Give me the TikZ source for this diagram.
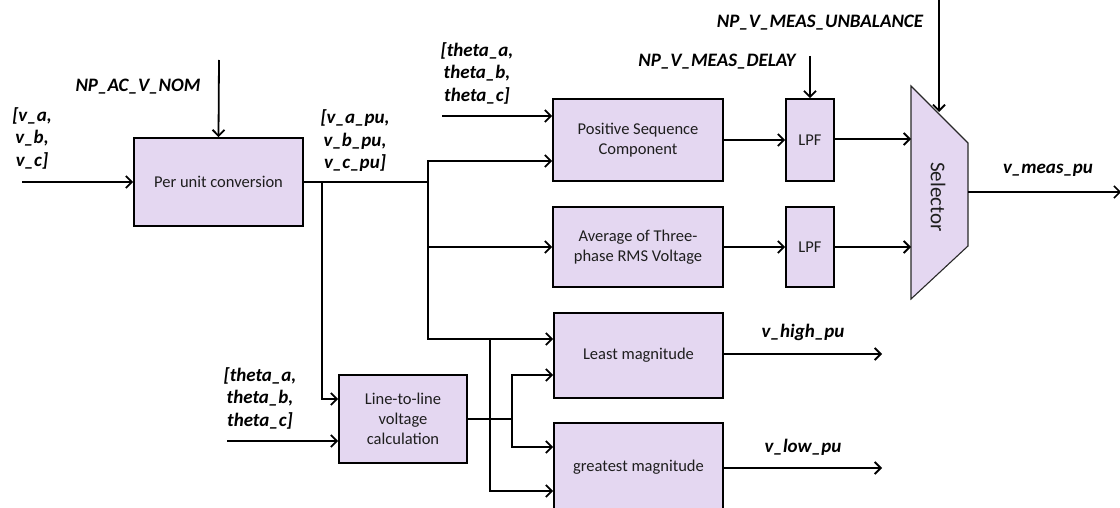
\documentclass[tikz,border=0pt]{standalone}
\usepackage{fontspec}
\setmainfont{Carlito}
\usetikzlibrary{arrows.meta}
\definecolor{boxfill}{RGB}{228,215,241}
\definecolor{boxtext}{RGB}{30,30,30}
\definecolor{selline}{RGB}{40,40,40}
\begin{document}
\begin{tikzpicture}[x=1pt,y=-1pt,
  blk/.style={draw=black, line width=1.8pt, fill=boxfill, text=boxtext,
    font=\fontsize{16.5}{20}\selectfont, align=center, inner sep=0pt},
  wire/.style={line width=1.8pt},
  arr/.style={wire, -{Straight Barb[length=6pt,width=12pt]}},
  lbl/.style={font=\fontsize{19}{#1}\selectfont\bfseries\itshape, align=center, inner sep=0pt},
  lbl/.default=22.5
]
\useasboundingbox (0,0) rectangle (1120,508);
\clip (0,0) rectangle (1120,508);

% processing blocks
\node[blk, minimum width=169pt, minimum height=88pt] (pu)  at (218.5,182) {Per unit conversion};
\node[blk, minimum width=170pt, minimum height=82pt] (psc) at (638,140) {Positive Sequence\\Component};
\node[blk, minimum width=170pt, minimum height=80pt] (avg) at (638,247) {Average of Three-\\phase RMS Voltage};
\node[blk, minimum width=48pt, minimum height=82pt] (lpfa) at (810,140) {LPF};
\node[blk, minimum width=48pt, minimum height=80pt] (lpfb) at (810,247) {LPF};
\node[blk, minimum width=169pt, minimum height=85pt] (least) at (638.5,355.5) {Least magnitude};
\node[blk, minimum width=169pt, minimum height=89pt] (great) at (638.5,467.5) {greatest magnitude};
\node[blk, minimum width=128pt, minimum height=88pt] (ltl) at (403,419) {Line-to-line\\voltage\\calculation};

% selector (trapezoid)
\coordinate (s1) at (911,86);
\coordinate (s2) at (968,143);
\coordinate (s3) at (968,246);
\coordinate (s4) at (911,299);
\draw[fill=boxfill, draw=selline, line width=1.1pt] (s1) -- (s2) -- (s3) -- (s4) -- cycle;
\node[rotate=-90, text=boxtext, font=\fontsize{21}{24}\selectfont] (sel) at (938,197) {Selector};

% free ends and junctions
\coordinate (vin)   at (22,182);
\coordinate (nomin) at (219,60);
\coordinate (j1) at (322,182);
\coordinate (j2) at (428,182);
\coordinate (j3) at (490,339);
\coordinate (j4) at (512,419);
\coordinate (thA) at (442,116);
\coordinate (thB) at (227,441);
\coordinate (dly) at (810,56);
\coordinate (unb) at (939,-2);
\coordinate (unbE) at (939,112);
\coordinate (selA) at (911,139);
\coordinate (selB) at (911,247);
\coordinate (selO) at (968,192);
\coordinate (outM) at (1121,192);
\coordinate (outH) at (882,354);
\coordinate (outL) at (882,468);

% connectors
\draw[arr] (vin) -- (pu.west);
\draw[arr] (nomin) -- (pu.north);
\draw[wire] (pu.east) -- (j2);
\draw[arr] (j2) |- ([yshift=-21pt]psc.west);
\draw[arr] (thA) -- ([yshift=24pt]psc.west);
\draw[arr] (j2) |- (avg.west);
\draw[arr] (j2) |- ([yshift=16.5pt]least.west);
\draw[arr] (j3) |- ([yshift=-23.5pt]great.west);
\draw[arr] (j1) |- ([yshift=20pt]ltl.west);
\draw[arr] (thB) -- ([yshift=-22pt]ltl.west);
\draw[wire] (ltl.east) -- (j4);
\draw[arr] (j4) |- ([yshift=-19.5pt]least.west);
\draw[arr] (j4) |- ([yshift=20.5pt]great.west);
\draw[arr] (psc.east) -- (lpfa.west);
\draw[arr] (avg.east) -- (lpfb.west);
\draw[arr] (lpfa.east |- selA) -- (selA);
\draw[arr] (lpfb.east) -- (selB);
\draw[arr] (dly) -- (lpfa.north);
\draw[arr] (unb) -- (unbE);
\draw[wire, line width=1.5pt, -{Straight Barb[length=6pt,width=12pt]}] (selO) -- (outM);
\draw[arr] (least.east |- outH) -- (outH);
\draw[arr] (great.east |- outL) -- (outL);

% signal labels
\node[lbl] (lvin) at (32,138) {[v\_a,\\v\_b,\\v\_c]};
\node[lbl] (lnom) at (138,87) {NP\_AC\_V\_NOM};
\node[lbl] (lvpu) at (355,141) {[v\_a\_pu,\\v\_b\_pu,\\v\_c\_pu]};
\node[lbl] (lthA) at (477,73) {[theta\_a,\\theta\_b,\\theta\_c]};
\node[lbl] (lthB) at (260,398) {[theta\_a,\\theta\_b,\\theta\_c]};
\node[lbl] (ldly) at (717,62) {NP\_V\_MEAS\_DELAY};
\node[lbl] (lunb) at (820,23) {NP\_V\_MEAS\_UNBALANCE};
\node[lbl] (lmeas) at (1048,170) {v\_meas\_pu};
\node[lbl] (lhigh) at (803,332) {v\_high\_pu};
\node[lbl] (llow) at (803,447) {v\_low\_pu};
\end{tikzpicture}
\end{document}
